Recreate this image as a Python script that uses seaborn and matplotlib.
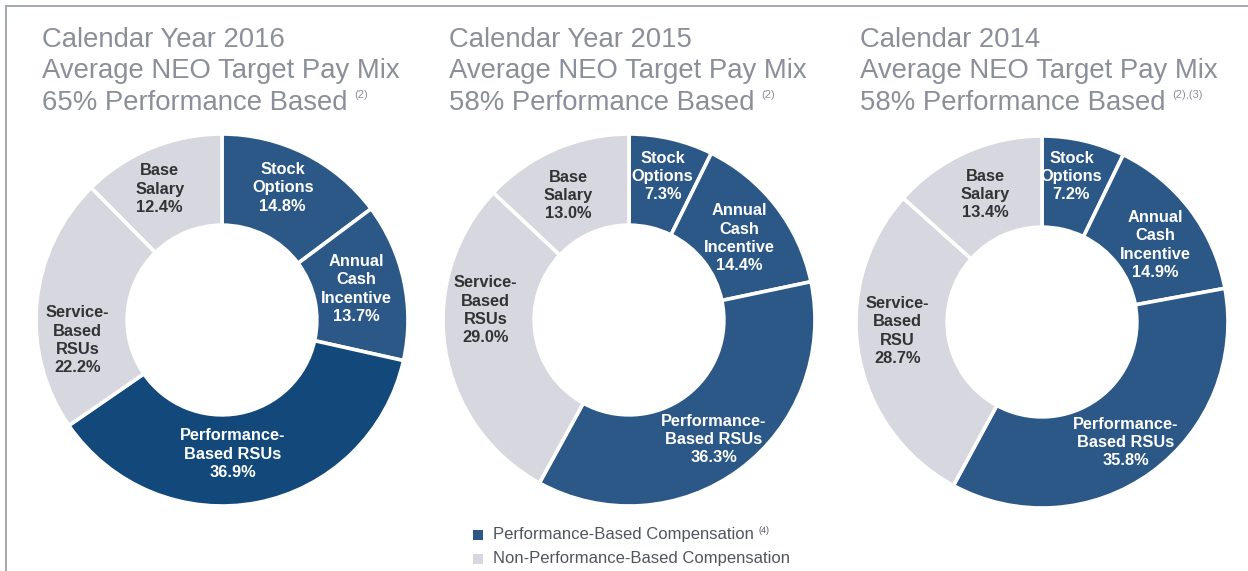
import matplotlib
matplotlib.use("Agg")
import matplotlib.pyplot as plt
from matplotlib.lines import Line2D
from matplotlib.patches import Rectangle
import numpy as np
import seaborn as sns

sns.set_theme(style="white")
plt.rcParams['font.family'] = ['Liberation Sans', 'DejaVu Sans']

# ---------------- data ----------------
components = ["Stock Options", "Annual Cash Incentive", "Performance-Based RSUs",
              "Service-Based RSUs", "Base Salary"]
perf_flag = [True, True, True, False, False]
labels_2016 = ["Stock\nOptions", "Annual\nCash\nIncentive", "Performance-\nBased RSUs",
               "Service-\nBased\nRSUs", "Base\nSalary"]
labels_2015 = ["Stock\nOptions", "Annual\nCash\nIncentive", "Performance-\nBased RSUs",
               "Service-\nBased\nRSUs", "Base\nSalary"]
labels_2014 = ["Stock\nOptions", "Annual\nCash\nIncentive", "Performance-\nBased RSUs",
               "Service-\nBased\nRSU", "Base\nSalary"]
values_2016 = [14.8, 13.7, 36.9, 22.2, 12.4]
values_2015 = [7.3, 14.4, 36.3, 29.0, 13.0]
values_2014 = [7.2, 14.9, 35.8, 28.7, 13.4]
titles = [["Calendar Year 2016", "Average NEO Target Pay Mix", "65% Performance Based"],
          ["Calendar Year 2015", "Average NEO Target Pay Mix", "58% Performance Based"],
          ["Calendar 2014", "Average NEO Target Pay Mix", "58% Performance Based"]]
title_notes = ["(2)", "(2)", "(2),(3)"]
legend_labels = ["Performance-Based Compensation", "Non-Performance-Based Compensation"]
legend_notes = ["(4)", ""]

# ---------------- style ----------------
W, H = 1248, 571
BLUE = "#2b5886"
BLUE_DARK = "#12487a"
GRAY = "#d6d7df"
TITLE_C = "#8b8f9a"

# small label nudges (in radius units) relative to the wedge mid-angle position
nudges = [
    [(-0.01, 0.04), (-0.01, 0.01), (-0.085, 0.015), (-0.03, -0.18), (-0.05, 0.01)],
    [(0.01, 0.04), (0.0, -0.02), (0.01, -0.04), (-0.03, 0.17), (-0.03, -0.02)],
    [(-0.01, 0.05), (0.01, -0.04), (0.01, -0.04), (-0.04, 0.08), (0.0, 0.0)],
]

fig = plt.figure(figsize=(W / 100, H / 100), dpi=100)
fig.patch.set_facecolor("white")

charts = [
    (values_2016, labels_2016, (222, 320), [BLUE, BLUE, BLUE_DARK, GRAY, GRAY]),
    (values_2015, labels_2015, (629, 320), [BLUE, BLUE, BLUE, GRAY, GRAY]),
    (values_2014, labels_2014, (1042, 322), [BLUE, BLUE, BLUE, GRAY, GRAY]),
]
R = 186
PAD = 1.1
title_x = [42, 449, 860]
title_base = [47, 78, 110]

fig.canvas.draw()
renderer = fig.canvas.get_renderer()

for i, (vals, labs, (cx, cy), cols) in enumerate(charts):
    half = R * PAD
    ax = fig.add_axes([(cx - half) / W, (H - cy - half) / H, 2 * half / W, 2 * half / H])
    wedges, _ = ax.pie(vals, colors=cols, startangle=90, counterclock=False,
                       radius=1.0,
                       wedgeprops=dict(width=0.49, edgecolor="white", linewidth=2.6))
    ax.set_xlim(-PAD, PAD)
    ax.set_ylim(-PAD, PAD)
    ax.set_aspect("equal")
    ax.axis("off")
    for w, lab, v, pf, (dx, dy) in zip(wedges, labs, vals, perf_flag, nudges[i]):
        th = np.deg2rad((w.theta1 + w.theta2) / 2)
        rr = 0.75
        ax.text(rr * np.cos(th) + dx, rr * np.sin(th) + dy, f"{lab}\n{v:.1f}%",
                ha="center", va="center", fontsize=11.8, fontweight="bold",
                linespacing=1.27, color="white" if pf else "#333333")
    # titles
    for j, line in enumerate(titles[i]):
        t = fig.text(title_x[i] / W, 1 - title_base[j] / H, line, fontsize=19.8,
                     color=TITLE_C, ha="left", va="baseline")
    bb = t.get_window_extent(renderer=renderer)
    fig.text((bb.x1 + 7) / W, 1 - (title_base[2] - 12) / H, title_notes[i],
             fontsize=8, color=TITLE_C, ha="left", va="baseline")

# legend
leg_cols = [BLUE, GRAY]
leg_base = [539, 563]
for k, (lab, note) in enumerate(zip(legend_labels, legend_notes)):
    fig.add_artist(Rectangle((473 / W, 1 - (leg_base[k] + 1) / H), 10 / W, 10 / H,
                             transform=fig.transFigure, facecolor=leg_cols[k],
                             edgecolor="none"))
    t = fig.text(493 / W, 1 - leg_base[k] / H, lab, fontsize=12, color="#50555f",
                 ha="left", va="baseline")
    if note:
        bb = t.get_window_extent(renderer=renderer)
        fig.text((bb.x1 + 5) / W, 1 - (leg_base[k] - 6) / H, note, fontsize=6.5,
                 color="#50555f", ha="left", va="baseline")

# frame lines
fig.add_artist(Line2D([6 / W, 1], [1 - 6 / H, 1 - 6 / H], transform=fig.transFigure,
                      color="#a3a7b0", linewidth=1.4))
fig.add_artist(Line2D([6 / W, 6 / W], [0, 1 - 6 / H], transform=fig.transFigure,
                      color="#a3a7b0", linewidth=1.4))

fig.savefig("out.png", dpi=100, facecolor="white")
